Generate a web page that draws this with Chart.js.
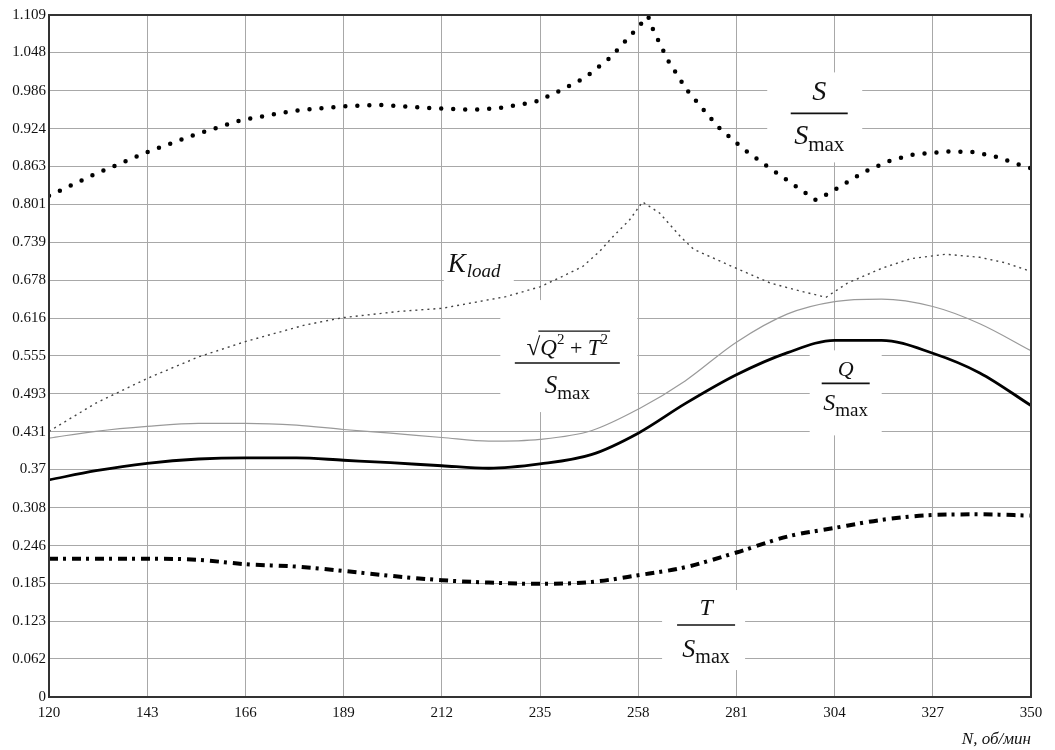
<!DOCTYPE html>
<html>
<head>
<meta charset="utf-8">
<script src="https://cdn.jsdelivr.net/npm/chart.js@4"></script>
<style>
  body { margin: 0; background: #fff; }
  #wrap { width: 1055px; height: 750px; }
</style>
</head>
<body>
<div id="wrap"><canvas id="chart"></canvas></div>
<script>
// axis ticks
const xTicks = [120, 143, 166, 189, 212, 235, 258, 281, 304, 327, 350];
const yTickLabels = ['0', '0.062', '0.123', '0.185', '0.246', '0.308', '0.37', '0.431', '0.493', '0.555',
    '0.616', '0.678', '0.739', '0.801', '0.863', '0.924', '0.986', '1.048', '1.109'];

// S / Smax (big dots)
const sN = [120, 131, 143, 154, 165, 177, 188, 197, 211, 219, 225, 234, 240, 245.5, 251.5, 256.5, 260.3,
    261.5, 265, 269.4, 276.7, 282.5, 288, 294, 299.6, 302.4, 311, 316.5, 322.3, 330, 337, 342, 348, 350];
const sVals = [0.815, 0.851, 0.886, 0.914, 0.938, 0.953, 0.960, 0.963, 0.957, 0.955, 0.957, 0.968, 0.987,
    1.007, 1.040, 1.078, 1.107, 1.085, 1.035, 0.987, 0.927, 0.892, 0.864, 0.835, 0.808, 0.818, 0.854, 0.871,
    0.882, 0.887, 0.886, 0.878, 0.864, 0.860];

// K load (small dots)
const kN = [120, 131, 143, 155, 166, 180, 189, 202, 212, 227, 235, 240, 245, 249, 252, 256, 259, 263, 268,
    271, 280, 289, 296, 302, 307, 315, 322, 330, 338, 344, 350];
const kVals = [0.432, 0.478, 0.518, 0.553, 0.578, 0.605, 0.617, 0.627, 0.632, 0.651, 0.667, 0.683, 0.700,
    0.725, 0.748, 0.776, 0.805, 0.787, 0.748, 0.728, 0.700, 0.673, 0.660, 0.650, 0.673, 0.697, 0.713, 0.720,
    0.715, 0.706, 0.692];

// smooth curves share one N grid
const nGrid = [120, 131, 143, 155, 166, 178, 189, 200, 212, 223, 235, 247, 258, 269, 281, 293, 304, 315, 327, 338, 350];
const rootVals = [0.421, 0.432, 0.440, 0.445, 0.445, 0.442, 0.435, 0.429, 0.422, 0.416, 0.419, 0.433, 0.468,
    0.514, 0.577, 0.623, 0.643, 0.647, 0.635, 0.607, 0.563];
const qVals = [0.353, 0.368, 0.380, 0.387, 0.389, 0.389, 0.385, 0.381, 0.376, 0.372, 0.379, 0.394, 0.429,
    0.477, 0.524, 0.560, 0.580, 0.580, 0.559, 0.527, 0.474];
const tVals = [0.225, 0.225, 0.225, 0.223, 0.216, 0.212, 0.205, 0.197, 0.190, 0.186, 0.184, 0.187, 0.198,
    0.211, 0.235, 0.261, 0.275, 0.288, 0.296, 0.297, 0.295];

const pts = (ns, vs) => ns.map((n, i) => ({ x: n, y: vs[i] }));

const SERIF = '"Liberation Serif", "Times New Roman", serif';

// curve captions (fraction labels), anchored at data coords of the fraction bar centre
const captions = [
    { n: 300.4, v: 0.949, bar: 57, numDy: -13, denDy: 31, box: [-52, -41, 95, 90],
      num: [{ t: 'S', s: 28, i: true }],
      den: [{ t: 'S', s: 28, i: true }, { t: 'max', s: 21, dy: 7 }] },
    { n: 241.4, v: 0.543, bar: 105, numDy: -8, denDy: 30, box: [-67, -63, 137, 112],
      num: [{ t: '√', s: 25 }, { t: 'Q', s: 23, i: true, over: true }, { t: '2', s: 15, dy: -11, over: true },
            { t: ' + ', s: 22, over: true }, { t: 'T', s: 23, i: true, over: true }, { t: '2', s: 15, dy: -11, over: true }],
      den: [{ t: 'S', s: 25, i: true }, { t: 'max', s: 19, dy: 6 }] },
    { n: 306.6, v: 0.510, bar: 48, numDy: -7, denDy: 27, box: [-36, -33, 72, 85],
      num: [{ t: 'Q', s: 22, i: true }],
      den: [{ t: 'S', s: 24, i: true }, { t: 'max', s: 19, dy: 6 }] },
    { n: 273.9, v: 0.117, bar: 58, numDy: -10, denDy: 32, box: [-44, -35, 83, 80],
      num: [{ t: 'T', s: 24, i: true }],
      den: [{ t: 'S', s: 26, i: true }, { t: 'max', s: 20, dy: 6 }] }
];
const kCaption = { n: 213.4, v: 0.691, box: [-4, -24, 70, 40] };

function fontOf(r) { return (r.i ? 'italic ' : '') + r.s + 'px ' + SERIF; }

function drawRuns(ctx, runs, cx, base) {
    let total = 0;
    runs.forEach(r => { ctx.font = fontOf(r); r.w = ctx.measureText(r.t).width; total += r.w; });
    let x = cx - total / 2;
    let overStart = null, overEnd = null;
    runs.forEach(r => {
        ctx.font = fontOf(r);
        ctx.fillText(r.t, x, base + (r.dy || 0));
        if (r.over) { if (overStart === null) overStart = x; overEnd = x + r.w; }
        x += r.w;
    });
    if (overStart !== null) {
        ctx.lineWidth = 1.3;
        ctx.beginPath();
        ctx.moveTo(overStart - 2, base - 24);
        ctx.lineTo(overEnd + 2, base - 24);
        ctx.stroke();
    }
}

const captionPlugin = {
    id: 'captions',
    beforeDatasetsDraw(chart) {
        const ctx = chart.ctx;
        const xs = chart.scales.x, ys = chart.scales.y;
        ctx.save();
        ctx.textAlign = 'left';
        ctx.textBaseline = 'alphabetic';
        captions.forEach(c => {
            const cx = xs.getPixelForValue(c.n), cy = ys.getPixelForValue(c.v);
            ctx.fillStyle = '#fff';
            ctx.fillRect(cx + c.box[0], cy + c.box[1], c.box[2], c.box[3]);
            ctx.fillStyle = '#111';
            ctx.strokeStyle = '#111';
            ctx.lineWidth = 1.6;
            ctx.beginPath();
            ctx.moveTo(cx - c.bar / 2, cy);
            ctx.lineTo(cx + c.bar / 2, cy);
            ctx.stroke();
            drawRuns(ctx, c.num, cx, cy + c.numDy);
            drawRuns(ctx, c.den, cx, cy + c.denDy);
        });
        // K_load
        const kx = xs.getPixelForValue(kCaption.n), ky = ys.getPixelForValue(kCaption.v);
        ctx.fillStyle = '#fff';
        ctx.fillRect(kx + kCaption.box[0], ky + kCaption.box[1], kCaption.box[2], kCaption.box[3]);
        ctx.fillStyle = '#111';
        ctx.font = 'italic 27px ' + SERIF;
        ctx.fillText('K', kx, ky);
        const kw = ctx.measureText('K').width;
        ctx.font = 'italic 19px ' + SERIF;
        ctx.fillText('load', kx + kw + 1, ky + 5);
        ctx.restore();
    },
    afterDraw(chart) {
        const a = chart.chartArea, ctx = chart.ctx;
        ctx.save();
        ctx.strokeStyle = '#333';
        ctx.lineWidth = 2;
        ctx.strokeRect(a.left, a.top, a.right - a.left, a.bottom - a.top);
        ctx.restore();
    }
};

new Chart(document.getElementById('chart').getContext('2d'), {
    type: 'line',
    data: {
        datasets: [
            {
                label: 'S/Smax', data: pts(sN, sVals),
                borderColor: '#000', borderWidth: 4.5, borderDash: [0, 12], borderCapStyle: 'round',
                tension: 0, pointRadius: 0
            },
            {
                label: 'Kload', data: pts(kN, kVals),
                borderColor: '#444', borderWidth: 1.4, borderDash: [2, 4],
                tension: 0, pointRadius: 0
            },
            {
                label: 'sqrt(Q2+T2)/Smax', data: pts(nGrid, rootVals),
                borderColor: '#9a9a9a', borderWidth: 1.2,
                cubicInterpolationMode: 'monotone', pointRadius: 0
            },
            {
                label: 'Q/Smax', data: pts(nGrid, qVals),
                borderColor: '#000', borderWidth: 2.8,
                cubicInterpolationMode: 'monotone', pointRadius: 0
            },
            {
                label: 'T/Smax', data: pts(nGrid, tVals),
                borderColor: '#000', borderWidth: 4, borderDash: [9, 5, 3, 6],
                cubicInterpolationMode: 'monotone', pointRadius: 0
            }
        ]
    },
    options: {
        responsive: true,
        maintainAspectRatio: false,
        animation: false,
        layout: { padding: { left: 0, right: 24, top: 15, bottom: 0 } },
        plugins: { legend: { display: false }, tooltip: { enabled: false } },
        scales: {
            x: {
                type: 'linear', min: 120, max: 350,
                afterBuildTicks: s => { s.ticks = xTicks.map(v => ({ value: v })); },
                afterFit: s => { s.height = 53; },
                grid: { color: '#a8a8a8', lineWidth: 1, drawTicks: false },
                border: { display: false },
                ticks: { color: '#111', font: { family: SERIF, size: 15 }, padding: 7, maxRotation: 0 },
                title: {
                    display: true, text: 'N, об/мин', align: 'end', color: '#111',
                    font: { family: SERIF, size: 17, style: 'italic' }, padding: { top: 4, bottom: 0 }
                }
            },
            y: {
                min: 0, max: 1.109,
                afterBuildTicks: s => { s.ticks = yTickLabels.map(t => ({ value: parseFloat(t) })); },
                afterFit: s => { s.width = 49; },
                grid: { color: '#a8a8a8', lineWidth: 1, drawTicks: false },
                border: { display: false },
                ticks: {
                    color: '#111', font: { family: SERIF, size: 15 }, padding: 3,
                    callback: (v, i) => yTickLabels[i]
                }
            }
        }
    },
    plugins: [captionPlugin]
});
</script>
</body>
</html>
